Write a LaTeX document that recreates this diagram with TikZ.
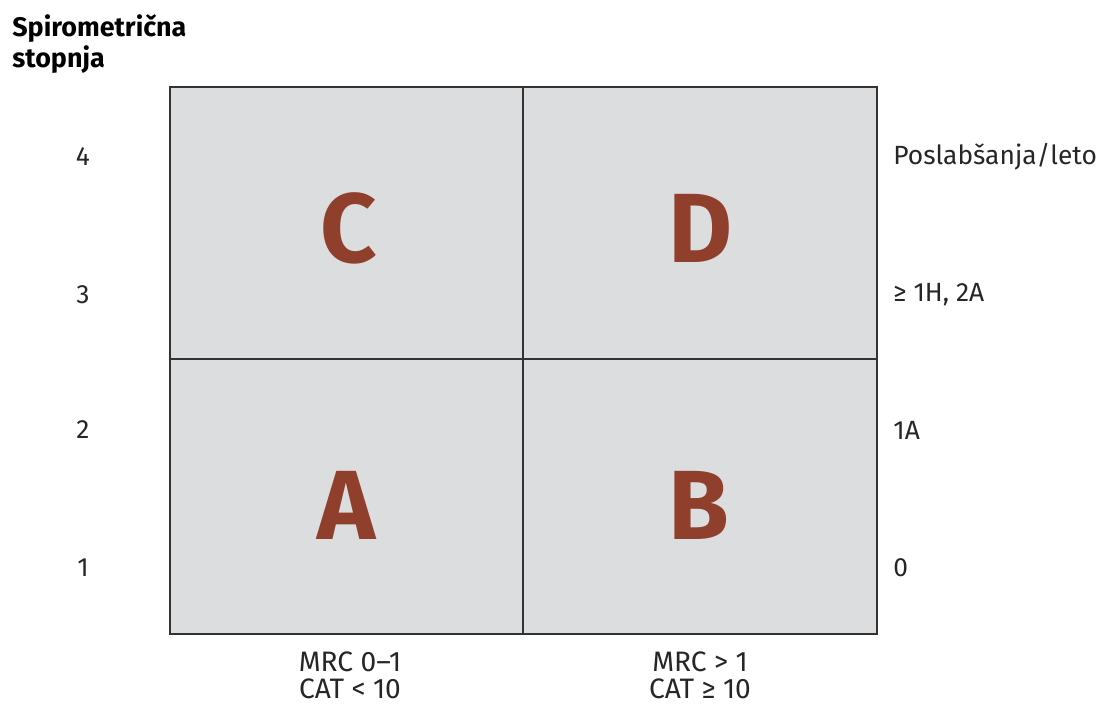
\documentclass[tikz,border=0pt]{standalone}
\usepackage{fontspec}
\setmainfont{Fira Sans}
\usepackage{xcolor}
\usepackage{tikz}

\definecolor{cellgray}{HTML}{DCDDDF}
\definecolor{framegray}{HTML}{333333}
\definecolor{letterred}{HTML}{8F3F2C}

\begin{document}
\begin{tikzpicture}[x=0.02cm, y=-0.02cm,
    lbl/.style={font=\fontsize{15}{16}\selectfont, text=black!85, inner sep=0pt},
    big/.style={font=\fontsize{56}{60}\selectfont\bfseries, text=letterred}]
    \useasboundingbox (0, 0) rectangle (1097, 706);

    \fill[cellgray] (170, 87) rectangle (877, 634);
    \draw[framegray, line width=1.6pt] (170, 87) rectangle (877, 634);
    \draw[framegray, line width=1pt] (523, 87) -- (523, 634);
    \draw[framegray, line width=1pt] (170, 359) -- (877, 359);

    \node[big] at (349, 228) (c) {C};
    \node[big] at (701, 228) (d) {D};
    \node[big] at (347, 505) (a) {A};
    \node[big] at (699, 505) (b) {B};

    \node[anchor=west, align=left, inner sep=0pt,
        font=\fontsize{15.3}{18}\selectfont\bfseries] at (12, 44) (title)
        {Spirometrična\\stopnja};

    \node[lbl] at (83, 157) (s4) {4};
    \node[lbl] at (83, 295) (s3) {3};
    \node[lbl] at (83, 430) (s2) {2};
    \node[lbl] at (83, 568) (s1) {1};

    \node[lbl, anchor=west] at (893, 157) (e0) {Poslabšanja/leto};
    \node[lbl, anchor=west] at (893, 295) (e3) {≥ 1H, 2A};
    \node[lbl, anchor=west] at (893, 430) (e2) {1A};
    \node[lbl, anchor=west] at (893, 568) (e1) {0};

    \node[lbl, align=center, font=\fontsize{16}{15.5}\selectfont] at (350, 675) (lo) {MRC 0–1\\CAT < 10};
    \node[lbl, align=center, font=\fontsize{16}{15.5}\selectfont] at (700, 675) (hi) {MRC > 1\\CAT ≥ 10};
\end{tikzpicture}
\end{document}
